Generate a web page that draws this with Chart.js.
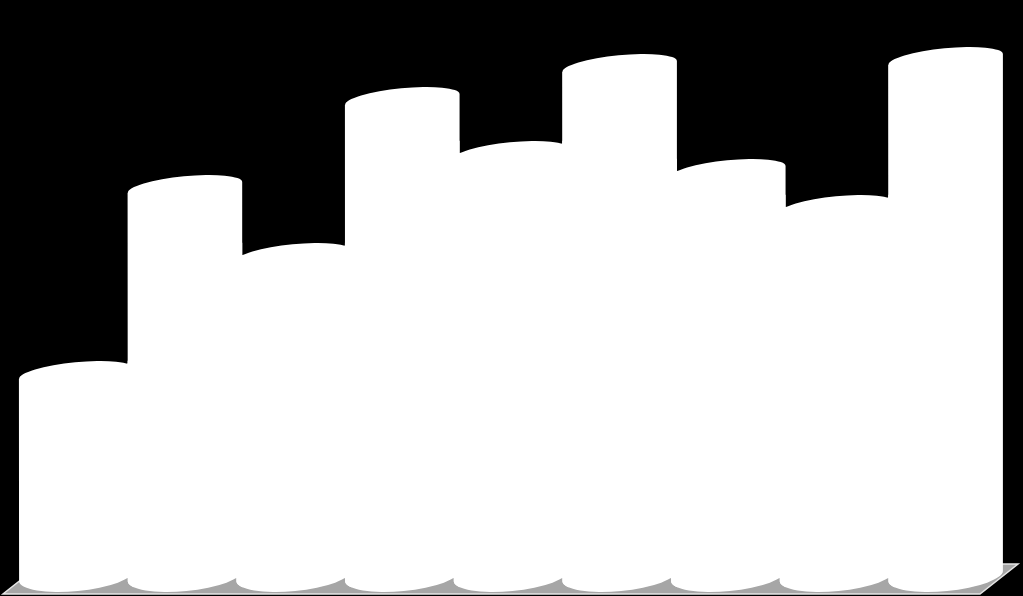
<!DOCTYPE html>
<html>
<head>
<meta charset="utf-8">
<style>
  html, body { margin: 0; padding: 0; background: #000; }
  canvas { display: block; }
</style>
<script src="https://cdn.jsdelivr.net/npm/chart.js@4"></script>
</head>
<body>
<canvas id="chart" width="1023" height="596"></canvas>
<script>
// no labels in the picture, so categories are just positions
const categories = ['1', '2', '3', '4', '5', '6', '7', '8', '9'];
const values = [231, 417, 349, 505, 451, 538, 433, 397, 545];

const tilt = 5.5 * Math.PI / 180;

// Rounds the bars off into cylinders by clipping them to an outline
const cylinderClip = {
  id: 'cylinderClip',
  beforeDatasetsDraw(chart) {
    const ctx = chart.ctx;
    const area = chart.chartArea;
    const bars = chart.getDatasetMeta(0).data;

    // floor, sits under the columns
    ctx.save();
    ctx.beginPath();
    ctx.moveTo(area.left - 19, area.bottom + 2);
    ctx.lineTo(area.right - 20, area.bottom + 2);
    ctx.lineTo(area.right + 18, area.bottom - 28);
    ctx.lineTo(area.left + 19, area.bottom - 28);
    ctx.closePath();
    ctx.fillStyle = '#a6a6a6';
    ctx.fill();
    ctx.strokeStyle = '#e6e6e6';
    ctx.lineWidth = 1.5;
    ctx.stroke();
    ctx.restore();

    ctx.save();
    ctx.beginPath();
    bars.forEach((bar) => {
      const a = bar.width / 2;
      ctx.moveTo(bar.x - a, bar.y + 18);
      ctx.ellipse(bar.x, bar.y + 12.5, a, 11.3, -tilt, Math.PI, 2 * Math.PI);
      ctx.ellipse(bar.x, bar.base - 16, a, 15, -tilt, 0, Math.PI);
      ctx.closePath();
    });
    ctx.clip();
  },
  afterDatasetsDraw(chart) {
    chart.ctx.restore();
  }
};

new Chart(document.getElementById('chart'), {
  type: 'bar',
  data: {
    labels: categories,
    datasets: [{
      data: values,
      backgroundColor: '#ffffff',
      barThickness: 115,
      clip: false
    }]
  },
  options: {
    responsive: false,
    animation: false,
    layout: { padding: { left: 22, right: 23, top: 32, bottom: 4 } },
    plugins: { legend: { display: false }, tooltip: { enabled: false } },
    scales: {
      x: { display: false },
      y: { display: false, min: 0, max: 560 }
    }
  },
  plugins: [cylinderClip]
});
</script>
</body>
</html>
